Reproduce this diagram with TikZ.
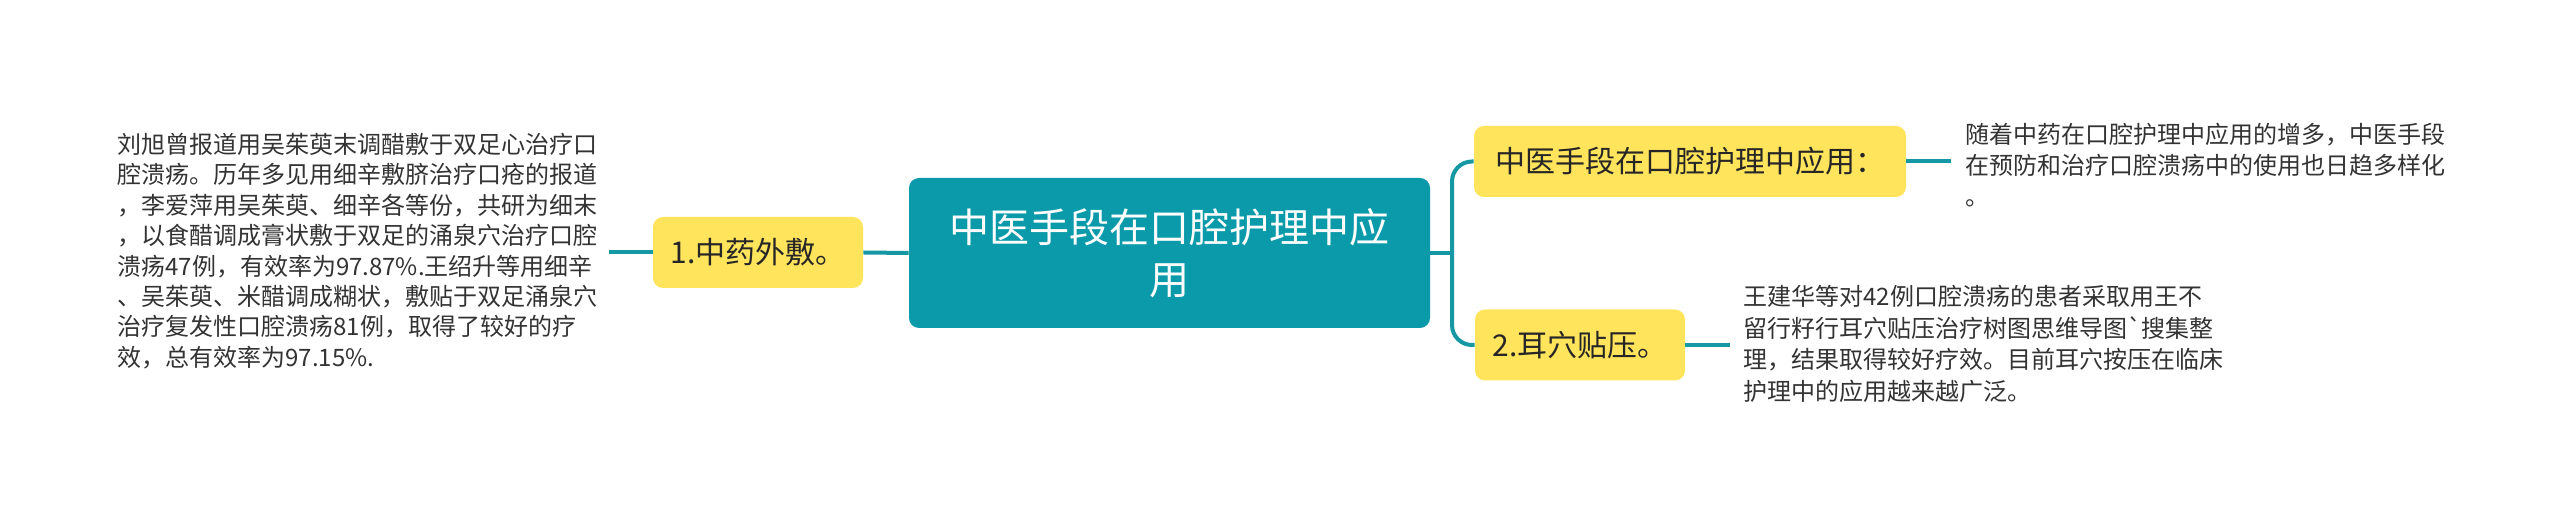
\documentclass[tikz,border=0pt]{standalone}
\usepackage{fontspec}
\newfontfamily\cjk{Noto Sans CJK SC}
\definecolor{rootfill}{HTML}{0A9AA9}
\definecolor{linkcol}{HTML}{1597A4}
\definecolor{yel}{HTML}{FFE45C}
\definecolor{txt}{HTML}{333333}
\begin{document}
\begin{tikzpicture}[x=0.5pt,y=-0.5pt,
  link/.style={draw=linkcol,line width=2pt},
  root/.style={fill=rootfill,rounded corners=5pt,minimum width=260.5pt,minimum height=75pt,text=white,font=\cjk\fontsize{20}{26}\selectfont,align=center,inner sep=0pt},
  topic/.style={fill=yel,rounded corners=5pt,minimum height=35.5pt,inner sep=0pt,text=black!85,font=\cjk\fontsize{15}{18}\selectfont},
  desc/.style={inner sep=0pt,align=left,text=txt,anchor=west}]
\fill[white] (0,0) rectangle (2560,522);
\useasboundingbox (0,0) rectangle (2560,522);
\node[root] (c) at (1169.5,253) {中医手段在口腔护理中应\\用};
\node[topic,minimum width=105pt] (a) at (758,252.5) {1.中药外敷。};
\node[desc,font=\cjk\fontsize{12}{15.2}\selectfont] (at) at (117,251) {刘旭曾报道用吴茱萸末调醋敷于双足心治疗口\\腔溃疡。历年多见用细辛敷脐治疗口疮的报道\\，李爱萍用吴茱萸、细辛各等份，共研为细末\\，以食醋调成膏状敷于双足的涌泉穴治疗口腔\\溃疡47例，有效率为97.87\%.王绍升等用细辛\\、吴茱萸、米醋调成糊状，敷贴于双足涌泉穴\\治疗复发性口腔溃疡81例，取得了较好的疗\\效，总有效率为97.15\%.};
\node[topic,minimum width=216pt] (b) at (1690,161.5) {中医手段在口腔护理中应用：};
\node[topic,minimum width=105pt] (d) at (1580,345) {2.耳穴贴压。};
\node[desc,font=\cjk\fontsize{12}{15.5}\selectfont] (bt) at (1965,165) {随着中药在口腔护理中应用的增多，中医手段\\在预防和治疗口腔溃疡中的使用也日趋多样化\\。};
\node[desc,font=\cjk\fontsize{12}{15.8}\selectfont] (dt) at (1743,344) {王建华等对42例口腔溃疡的患者采取用王不\\留行籽行耳穴贴压治疗树图思维导图`搜集整\\理，结果取得较好疗效。目前耳穴按压在临床\\护理中的应用越来越广泛。};
\coordinate (j) at (1452,253);
\draw[link] (c.west) -- (a.east);
\draw[link,shorten >=5.5pt] (a.west) -- (a.west -| at.east);
\draw[link] (c.east) -- (j);
\draw[link,rounded corners=10pt] (b.west) -| (j) |- (d.west);
\draw[link,shorten >=7pt] (b.east) -- (b.east -| bt.west);
\draw[link,shorten >=6.5pt] (d.east) -- (d.east -| dt.west);
\end{tikzpicture}
\end{document}
